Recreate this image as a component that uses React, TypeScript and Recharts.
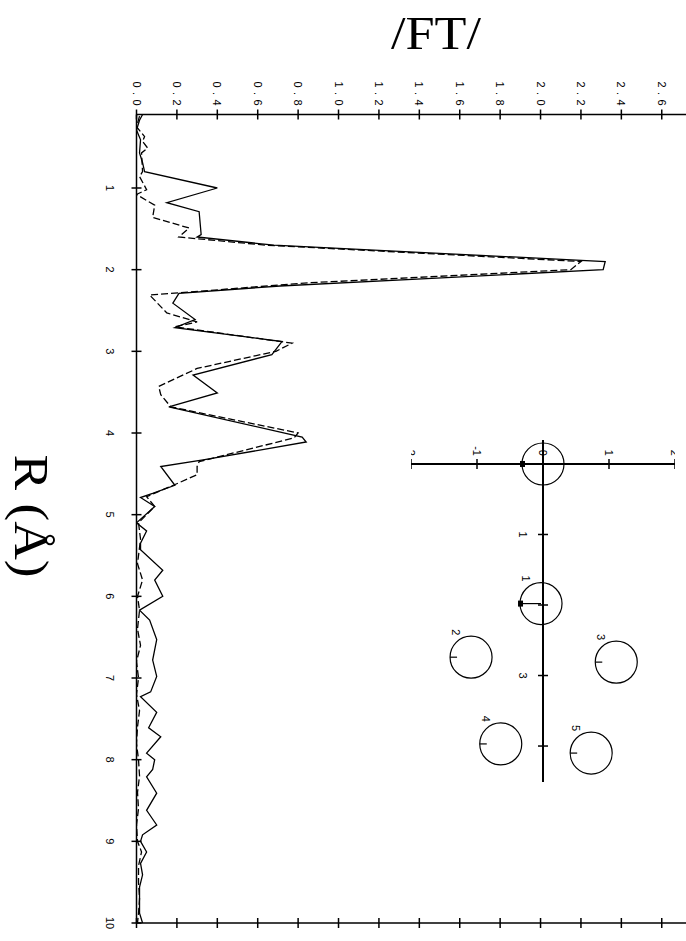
import React from 'react'
import {
  LineChart,
  Line,
  XAxis,
  YAxis,
  ScatterChart,
  Scatter,
  ReferenceLine,
} from 'recharts'

// R (Å) positions and |FT| values
const SOLID_R = [
  0.1, 0.17, 0.29, 0.41, 0.57, 0.69, 0.8, 1.0, 1.18, 1.29, 1.57, 1.6, 1.7, 1.8, 1.9, 2.0,
  2.1, 2.2, 2.29, 2.41, 2.61, 2.71, 2.88, 3.04, 3.29, 3.51, 3.68, 4.05, 4.11, 4.33, 4.41,
  4.64, 4.74, 4.79, 4.9, 5.1, 5.2, 5.35, 5.43, 5.68, 5.8, 6.0, 6.17, 6.29, 6.53, 6.78, 6.98,
  7.17, 7.23, 7.42, 7.61, 7.72, 7.92, 8.0, 8.12, 8.21, 8.41, 8.62, 8.8, 8.92, 9.0, 9.13,
  9.27, 9.41, 9.56, 9.88, 10.0,
]
const SOLID_FT = [
  0.03, 0.015, 0.0, 0.02, 0.015, 0.03, 0.04, 0.4, 0.15, 0.31, 0.32, 0.3, 0.68, 1.5, 2.32, 2.31,
  1.51, 0.71, 0.21, 0.18, 0.29, 0.19, 0.72, 0.67, 0.28, 0.4, 0.16, 0.82, 0.84, 0.33, 0.12,
  0.19, 0.08, 0.02, 0.09, 0.0, 0.05, 0.02, 0.02, 0.13, 0.09, 0.13, 0.015, 0.065, 0.1, 0.08, 0.1,
  0.07, 0.02, 0.1, 0.06, 0.12, 0.05, 0.09, 0.08, 0.05, 0.1, 0.05, 0.1, 0.03, 0.02, 0.05,
  0.02, 0.03, 0.015, 0.015, 0.03,
]

const DASH_R = [
  0.12, 0.25, 0.37, 0.43, 0.51, 0.57, 0.8, 0.86, 1.02, 1.08, 1.21, 1.36, 1.49, 1.6, 1.7, 1.8,
  1.9, 2.0, 2.1, 2.16, 2.31, 2.53, 2.64, 2.7, 2.9, 3.0, 3.21, 3.43, 3.53, 3.68, 4.0, 4.06,
  4.35, 4.41, 4.51, 4.61, 4.78, 4.9, 5.1, 5.3, 5.6, 5.8, 6.0, 6.17, 6.4, 6.6, 6.8, 7.0, 7.2,
  7.4, 7.6, 7.8, 8.0, 8.2, 8.4, 8.6, 8.8, 9.0, 9.13, 9.3, 9.5, 9.7, 9.88, 10.0,
]
const DASH_FT = [
  0.015, 0.0, 0.04, 0.03, 0.055, 0.025, 0.03, 0.015, 0.05, 0.0, 0.09, 0.08, 0.26, 0.21, 0.64, 1.42,
  2.2, 2.15, 1.35, 0.86, 0.065, 0.15, 0.3, 0.19, 0.77, 0.69, 0.3, 0.11, 0.12, 0.17, 0.8, 0.78,
  0.31, 0.3, 0.3, 0.21, 0.05, 0.09, 0.01, 0.02, 0.005, 0.03, 0.005, 0.015, 0.005, 0.02, 0.0, 0.01, 0.0,
  0.015, 0.005, 0.0, 0.01, 0.015, 0.005, 0.01, 0.0, 0.005, 0.025, 0.01, 0.01, 0.015, 0.01, 0.005,
]

const R_TICKS = [1, 2, 3, 4, 5, 6, 7, 8, 9, 10]
const FT_TICKS = [0, 0.2, 0.4, 0.6, 0.8, 1.0, 1.2, 1.4, 1.6, 1.8, 2.0, 2.2, 2.4, 2.6]

// inset: shell positions (distance along the chain axis, lateral offset)
const SHELL_LABELS = ['', '1', '2', '3', '4', '5']
const SHELL_V = [0, 1.98, 2.74, 2.81, 3.97, 4.1]
const SHELL_U = [0, -0.03, -1.09, 1.11, -0.64, 0.73]
const INSET_U_TICKS = [-2, -1, 0, 1, 2]
const INSET_V_TICKS = [1, 2, 3, 4]
const INSET_V_LABELS = ['1', '', '3', '']

const solidData = SOLID_R.map((r, i) => ({ r, ft: SOLID_FT[i] }))
const dashData = DASH_R.map((r, i) => ({ r, ft: DASH_FT[i] }))
const shells = SHELL_V.map((v, i) => ({ v, u: SHELL_U[i], label: SHELL_LABELS[i], idx: i }))
const uTicks = INSET_U_TICKS.map((u) => ({ v: 0, u }))
const vTicks = INSET_V_TICKS.map((v, i) => ({ v, u: 0, label: INSET_V_LABELS[i] }))

const tickFont = { fontFamily: 'Liberation Sans, Arial, sans-serif', fontSize: 11, fill: '#000' }

const RTick = ({ x, y, payload }: any) => (
  <g>
    <line x1={x} x2={x} y1={y - 5} y2={y + 5} stroke="#000" strokeWidth={1.5} />
    <text x={x} y={y + 27} textAnchor="middle" dominantBaseline="central" {...tickFont}>
      {payload.value}
    </text>
  </g>
)

const FTTick = ({ x, y, payload }: any) => (
  <g>
    <line x1={x - 5} x2={x + 5} y1={y} y2={y} stroke="#000" strokeWidth={1.5} />
    <text
      x={x - 9}
      y={y}
      textAnchor="end"
      dominantBaseline="central"
      textLength={24}
      lengthAdjust="spacing"
      {...tickFont}
    >
      {payload.value.toFixed(1)}
    </text>
  </g>
)

const FTTickBare = ({ x, y }: any) => (
  <line x1={x - 5} x2={x + 5} y1={y} y2={y} stroke="#000" strokeWidth={1.5} />
)

const ShellShape = ({ cx, cy, payload }: any) => (
  <g>
    <circle cx={cx} cy={cy} r={21} fill="none" stroke="#000" strokeWidth={1.2} />
    <line
      x1={cx}
      x2={cx}
      y1={cy + 21}
      y2={cy + (payload.idx === 1 ? 0 : 14)}
      stroke="#000"
      strokeWidth={1.2}
    />
    {payload.idx < 2 && <rect x={cx - 3} y={cy + 18} width={6} height={5} fill="#000" />}
    {payload.label && (
      <text x={cx - 25} y={cy + 15} textAnchor="middle" dominantBaseline="central" {...tickFont}>
        {payload.label}
      </text>
    )}
  </g>
)

const UTickShape = ({ cx, cy, payload }: any) => (
  <g>
    <line x1={cx - 5} x2={cx + 5} y1={cy} y2={cy} stroke="#000" strokeWidth={1.5} />
    <text x={cx - 8} y={cy} textAnchor="end" dominantBaseline="central" {...tickFont}>
      {payload.u}
    </text>
  </g>
)

const VTickShape = ({ cx, cy, payload }: any) => (
  <g>
    <line x1={cx} x2={cx} y1={cy - 5} y2={cy + 5} stroke="#000" strokeWidth={1.5} />
    <text x={cx} y={cy + 20} textAnchor="middle" dominantBaseline="central" {...tickFont}>
      {payload.label}
    </text>
  </g>
)

export default function App() {
  return (
    <div
      style={{
        position: 'absolute',
        left: 0,
        top: 0,
        width: 686,
        height: 941,
        overflow: 'hidden',
        background: '#fff',
      }}
    >
      <div
        style={{
          position: 'absolute',
          left: 0,
          top: 0,
          width: 941,
          height: 686,
          transformOrigin: '0 0',
          transform: 'translate(686px, 0) rotate(90deg)',
        }}
      >
        <div style={{ position: 'absolute', left: 0, top: 0 }}>
          <LineChart
            width={941}
            height={686}
            margin={{ top: 0, right: 8, bottom: 96.5, left: 74.5 }}
          >
            <XAxis
              dataKey="r"
              type="number"
              domain={[0.1, 10]}
              ticks={R_TICKS}
              allowDataOverflow
              height={40}
              tickSize={0}
              tickMargin={0}
              tickLine={false}
              axisLine={{ stroke: '#000', strokeWidth: 1.5 }}
              tick={<RTick />}
              interval={0}
            />
            <YAxis
              yAxisId="left"
              type="number"
              domain={[0, 2.72]}
              ticks={FT_TICKS}
              allowDataOverflow
              width={40}
              tickSize={0}
              tickMargin={0}
              tickLine={false}
              axisLine={{ stroke: '#000', strokeWidth: 1.5 }}
              tick={<FTTick />}
              interval={0}
            />
            <YAxis
              yAxisId="right"
              orientation="right"
              type="number"
              domain={[0, 2.72]}
              ticks={FT_TICKS}
              allowDataOverflow
              width={10}
              tickSize={0}
              tickMargin={0}
              tickLine={false}
              axisLine={{ stroke: '#000', strokeWidth: 1.5 }}
              tick={<FTTickBare />}
              interval={0}
            />
            <Line
              yAxisId="left"
              data={dashData}
              dataKey="ft"
              type="linear"
              stroke="#000"
              strokeWidth={1.3}
              strokeDasharray="7 3"
              dot={false}
              isAnimationActive={false}
            />
            <Line
              yAxisId="left"
              data={solidData}
              dataKey="ft"
              type="linear"
              stroke="#000"
              strokeWidth={1.3}
              dot={false}
              isAnimationActive={false}
            />
          </LineChart>
        </div>

        <div style={{ position: 'absolute', left: 420, top: -9 }}>
          <ScatterChart
            width={382}
            height={304}
            margin={{ top: 20, right: 20, bottom: 20, left: 20 }}
          >
            <XAxis dataKey="v" type="number" domain={[-0.34, 4.51]} hide allowDataOverflow />
            <YAxis dataKey="u" type="number" domain={[-2, 2]} hide allowDataOverflow />
            <ReferenceLine x={0} stroke="#000" strokeWidth={2} />
            <ReferenceLine y={0} stroke="#000" strokeWidth={2} />
            <Scatter data={uTicks} shape={<UTickShape />} isAnimationActive={false} />
            <Scatter data={vTicks} shape={<VTickShape />} isAnimationActive={false} />
            <Scatter data={shells} shape={<ShellShape />} isAnimationActive={false} />
          </ScatterChart>
        </div>

        <svg
          width={941}
          height={686}
          style={{ position: 'absolute', left: 0, top: 0, pointerEvents: 'none' }}
        >
          <text
            x={516}
            y={671}
            textAnchor="middle"
            fontFamily="Liberation Serif, Times New Roman, serif"
            fontSize={48}
            textLength={123}
            lengthAdjust="spacingAndGlyphs"
          >
            R (Å)
          </text>
          <text
            transform="translate(49, 250) rotate(-90)"
            textAnchor="middle"
            fontFamily="Liberation Serif, Times New Roman, serif"
            fontSize={46}
            textLength={90}
            lengthAdjust="spacingAndGlyphs"
          >
            /FT/
          </text>
        </svg>
      </div>
    </div>
  )
}
